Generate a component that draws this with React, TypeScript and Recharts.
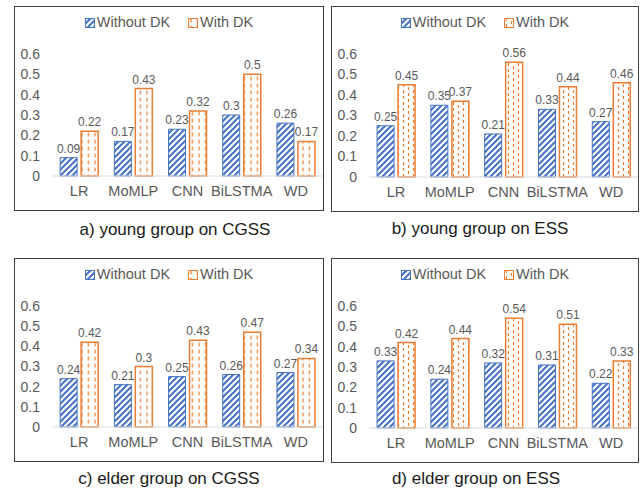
// Four grouped bar panels: Without DK vs With DK by model and group
import React from 'react'
import { BarChart, Bar, XAxis, YAxis, Legend, LabelList } from 'recharts'

const categories = ['LR', 'MoMLP', 'CNN', 'BiLSTMA', 'WD']
const yTicks = [0, 0.1, 0.2, 0.3, 0.4, 0.5, 0.6]

const youngCgssWithout = [0.09, 0.17, 0.23, 0.3, 0.26]
const youngCgssWith = [0.22, 0.43, 0.32, 0.5, 0.17]
const youngEssWithout = [0.25, 0.35, 0.21, 0.33, 0.27]
const youngEssWith = [0.45, 0.37, 0.56, 0.44, 0.46]
const elderCgssWithout = [0.24, 0.21, 0.25, 0.26, 0.27]
const elderCgssWith = [0.42, 0.3, 0.43, 0.47, 0.34]
const elderEssWithout = [0.33, 0.24, 0.32, 0.31, 0.22]
const elderEssWith = [0.42, 0.44, 0.54, 0.51, 0.33]

const FONT = '"Liberation Sans", Arial, sans-serif'
const BLUE = '#4472C4'
const ORANGE = '#ED7D31'
const GREY = '#595959'

function buildRows(without: number[], withDk: number[]) {
  return categories.map((name, i) => ({ name, without: without[i], withDk: withDk[i] }))
}

function Patterns({ id }: { id: string }) {
  return (
    <defs>
      <pattern id={`hatch-${id}`} patternUnits="userSpaceOnUse" width="6" height="6">
        <rect width="6" height="6" fill="#fff" />
        <path d="M0,6 L6,0 M-1.5,1.5 L1.5,-1.5 M4.5,7.5 L7.5,4.5" stroke={BLUE} strokeWidth="2" />
      </pattern>
      <pattern id={`dash-${id}`} patternUnits="userSpaceOnUse" width="6.5" height="7">
        <rect width="6.5" height="7" fill="#fff" />
        <line x1="3" y1="0.5" x2="3" y2="4.5" stroke={ORANGE} strokeWidth="1.2" />
      </pattern>
      <pattern id={`dot-${id}`} patternUnits="userSpaceOnUse" width="10" height="6">
        <rect width="10" height="6" fill="#fff" />
        <line x1="2.5" y1="0" x2="2.5" y2="3" stroke={ORANGE} strokeWidth="1.2" />
        <line x1="7.5" y1="3" x2="7.5" y2="6" stroke={ORANGE} strokeWidth="1.2" />
      </pattern>
    </defs>
  )
}

function LegendBox({ id, orangeKind }: { id: string; orangeKind: string }) {
  return (
    <div style={{ textAlign: 'center', fontFamily: FONT, fontSize: 14.5, color: GREY, lineHeight: '16px' }}>
      <svg width="10" height="10" style={{ verticalAlign: -1, marginRight: 2 }}>
        <rect x="0.5" y="0.5" width="9" height="9" fill={`url(#hatch-${id})`} stroke={BLUE} />
      </svg>
      <span style={{ marginRight: 18 }}>Without DK</span>
      <svg width="10" height="10" style={{ verticalAlign: -1, marginRight: 2 }}>
        <rect x="0.5" y="0.5" width="9" height="9" fill={`url(#${orangeKind}-${id})`} stroke={ORANGE} />
      </svg>
      <span>With DK</span>
    </div>
  )
}

interface PanelProps {
  id: string
  left: number
  top: number
  width: number
  height: number
  without: number[]
  withDk: number[]
  orangeKind: string
  title: string
  titleX: number
  titleY: number
}

function Panel(p: PanelProps) {
  const rows = buildRows(p.without, p.withDk)
  return (
    <>
      <div style={{ position: 'absolute', left: p.left, top: p.top }}>
        <BarChart
          width={p.width}
          height={p.height}
          data={rows}
          margin={{ top: 32, right: 1, left: 0, bottom: 0 }}
          barCategoryGap="15%"
          barGap={4}
        >
          <Patterns id={p.id} />
          <Legend
            verticalAlign="top"
            content={() => <LegendBox id={p.id} orangeKind={p.orangeKind} />}
            wrapperStyle={{ top: 8, left: 0, width: p.width }}
          />
          <XAxis
            dataKey="name"
            height={35}
            tickLine={false}
            axisLine={{ stroke: '#d9d9d9' }}
            tick={{ fontSize: 14.5, fill: GREY, fontFamily: FONT }}
            tickMargin={4}
            interval={0}
          />
          <YAxis
            width={38}
            domain={[0, 0.6]}
            ticks={yTicks}
            interval={0}
            axisLine={false}
            tickLine={false}
            tickMargin={6}
            tick={{ fontSize: 14, fill: GREY, fontFamily: FONT }}
          />
          <Bar dataKey="without" fill={`url(#hatch-${p.id})`} stroke={BLUE} strokeWidth={1} isAnimationActive={false}>
            <LabelList dataKey="without" position="top" offset={5} style={{ fontSize: 12, fill: GREY, fontFamily: FONT }} />
          </Bar>
          <Bar dataKey="withDk" fill={`url(#${p.orangeKind}-${p.id})`} stroke={ORANGE} strokeWidth={1.5} isAnimationActive={false}>
            <LabelList dataKey="withDk" position="top" offset={5} style={{ fontSize: 12, fill: GREY, fontFamily: FONT }} />
          </Bar>
        </BarChart>
      </div>
      <div
        style={{
          position: 'absolute', left: p.left, top: p.top, width: p.width, height: p.height,
          border: '1.5px solid #404040', boxSizing: 'border-box', pointerEvents: 'none',
        }}
      />
      <div
        style={{
          position: 'absolute', left: p.titleX - 150, top: p.titleY - 11, width: 300,
          textAlign: 'center', fontFamily: FONT, fontSize: 17, lineHeight: '22px', color: '#1a1a1a',
        }}
      >
        {p.title}
      </div>
    </>
  )
}

export default function App() {
  return (
    <div style={{ position: 'absolute', left: 0, top: 0, width: 640, height: 492, background: '#fff' }}>
      <Panel id="a" left={14} top={6} width={310} height={205} without={youngCgssWithout} withDk={youngCgssWith}
        orangeKind="dash" title="a) young group on CGSS" titleX={175} titleY={230} />
      <Panel id="b" left={331} top={6} width={308} height={206} without={youngEssWithout} withDk={youngEssWith}
        orangeKind="dot" title="b) young group on ESS" titleX={480} titleY={229} />
      <Panel id="c" left={14} top={258} width={310} height={204} without={elderCgssWithout} withDk={elderCgssWith}
        orangeKind="dash" title="c) elder group on CGSS" titleX={169} titleY={479} />
      <Panel id="d" left={331} top={258} width={308} height={205} without={elderEssWithout} withDk={elderEssWith}
        orangeKind="dot" title="d) elder group on ESS" titleX={476} titleY={479} />
    </div>
  )
}
